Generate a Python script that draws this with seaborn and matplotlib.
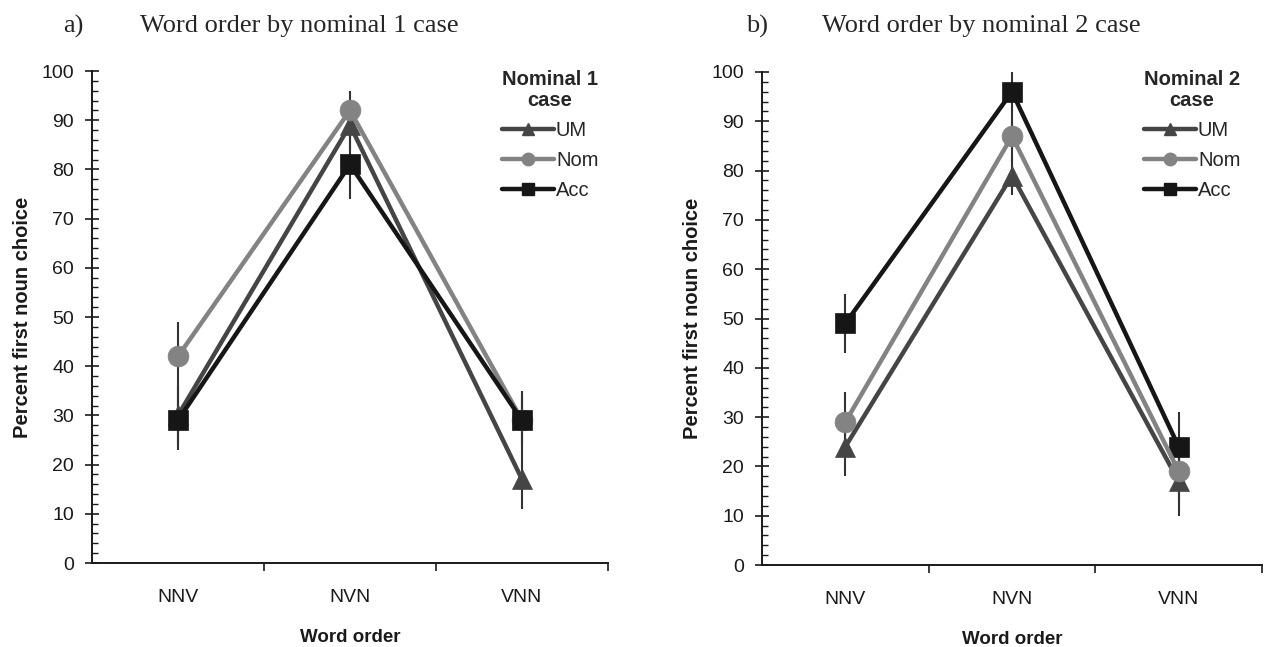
import numpy as np
import pandas as pd
import matplotlib
matplotlib.use("Agg")
import matplotlib.pyplot as plt
from matplotlib.lines import Line2D
from matplotlib.ticker import MultipleLocator, FixedLocator
import seaborn as sns

# ---- data ----
word_order = ["NNV", "NVN", "VNN"]
series = ["UM", "Nom", "Acc"]

# panel a: word order by nominal 1 case
a_um = [30, 89, 17]
a_nom = [42, 92, 29]
a_acc = [29, 81, 29]
a_um_err = [6, 5, 6]
a_nom_err = [7, 4, 5]
a_acc_err = [6, 7, 6]

# panel b: word order by nominal 2 case
b_um = [24, 79, 17]
b_nom = [29, 87, 19]
b_acc = [49, 96, 24]
b_um_err = [6, 4, 7]
b_nom_err = [6, 5, 6]
b_acc_err = [6, 4, 7]

yticks = list(range(0, 101, 10))

colors = {"UM": "#454545", "Nom": "#838383", "Acc": "#161616"}
markers = {"UM": "^", "Nom": "o", "Acc": "s"}
msize = {"UM": 14, "Nom": 15, "Acc": 15}

sns.set_theme(style="white")
plt.rcParams["font.family"] = ["Liberation Sans", "DejaVu Sans"]

fig = plt.figure(figsize=(12.64, 6.47), dpi=100)
W, H = 1264, 647

def frac_axes(l, t, r, b):
    return fig.add_axes([l / W, 1 - b / H, (r - l) / W, (b - t) / H])

ax_a = frac_axes(92, 71, 608, 563)
ax_b = frac_axes(762, 72, 1262, 565)

def draw(ax, vals, errs, legend_title, leg_x, zorders):
    x = np.arange(len(word_order))
    for s in series:
        v = np.array(vals[s]); e = np.array(errs[s])
        ax.vlines(x, v - e, v + e, color="#333333", lw=1.5, zorder=1)
    for s in series:
        df = pd.DataFrame({"x": x, "y": vals[s]})
        sns.lineplot(data=df, x="x", y="y", ax=ax, color=colors[s], lw=3.2,
                     marker=markers[s], markersize=msize[s],
                     markeredgecolor=colors[s], markeredgewidth=0.5,
                     zorder=zorders[s], legend=False)
    ax.set_xlim(-0.5, 2.5)
    ax.set_ylim(0, 100)
    ax.yaxis.set_major_locator(FixedLocator(yticks))
    ax.yaxis.set_minor_locator(MultipleLocator(2))
    ax.set_xticks(x)
    ax.set_xticklabels(word_order)
    ax.xaxis.set_minor_locator(FixedLocator([0.5, 1.5, 2.5]))
    ax.tick_params(axis="x", which="major", length=0, pad=19, labelsize=14,
                   colors="#1a1a1a")
    ax.tick_params(axis="x", which="minor", length=6, width=1.2, direction="out",
                   color="#1a1a1a", bottom=True)
    ax.tick_params(axis="y", which="major", length=10, width=1.2, direction="inout",
                   pad=8, labelsize=14, colors="#1a1a1a", left=True)
    ax.tick_params(axis="y", which="minor", length=4, width=1.0, direction="in",
                   color="#1a1a1a", left=True)
    for sp in ["top", "right"]:
        ax.spines[sp].set_visible(False)
    for sp in ["left", "bottom"]:
        ax.spines[sp].set_color("#1a1a1a")
        ax.spines[sp].set_linewidth(1.4)
    ax.set_xlabel("Word order", fontsize=13.5, fontweight="bold", labelpad=16,
                  color="#1a1a1a")
    ax.set_ylabel("Percent first noun choice", fontsize=14.5, fontweight="bold",
                  labelpad=7, color="#1a1a1a")
    handles = [Line2D([], [], color=colors[s], lw=3.2, marker=markers[s],
                      markersize=9 if s != "UM" else 8, markeredgecolor=colors[s])
               for s in series]
    leg = fig.legend(handles, series, title=legend_title, loc="upper center",
                     bbox_to_anchor=(leg_x / W, 1 - 52 / H),
                     frameon=False, fontsize=14.5, handlelength=2.6,
                     handletextpad=0.1, labelspacing=0.55,
                     title_fontproperties={"weight": "bold", "size": 14.5})
    leg.get_title().set_multialignment("center")
    leg.get_title().set_linespacing(1.1)
    return leg

draw(ax_a, {"UM": a_um, "Nom": a_nom, "Acc": a_acc},
     {"UM": a_um_err, "Nom": a_nom_err, "Acc": a_acc_err}, "Nominal 1\ncase", 550,
     {"UM": 2, "Nom": 3, "Acc": 4})
draw(ax_b, {"UM": b_um, "Nom": b_nom, "Acc": b_acc},
     {"UM": b_um_err, "Nom": b_nom_err, "Acc": b_acc_err}, "Nominal 2\ncase", 1192,
     {"UM": 2, "Nom": 4, "Acc": 3})

serif = ["Liberation Serif", "DejaVu Serif"]
fs_title = 19
fig.text(63 / W, 1 - 26 / H, "a)", family=serif, fontsize=fs_title, va="center", ha="left")
fig.text(140 / W, 1 - 26 / H, "Word order by nominal 1 case", family=serif,
         fontsize=fs_title, va="center", ha="left")
fig.text(746 / W, 1 - 26 / H, "b)", family=serif, fontsize=fs_title, va="center", ha="left")
fig.text(822 / W, 1 - 26 / H, "Word order by nominal 2 case", family=serif,
         fontsize=fs_title, va="center", ha="left")

fig.savefig("out.png", dpi=100)
